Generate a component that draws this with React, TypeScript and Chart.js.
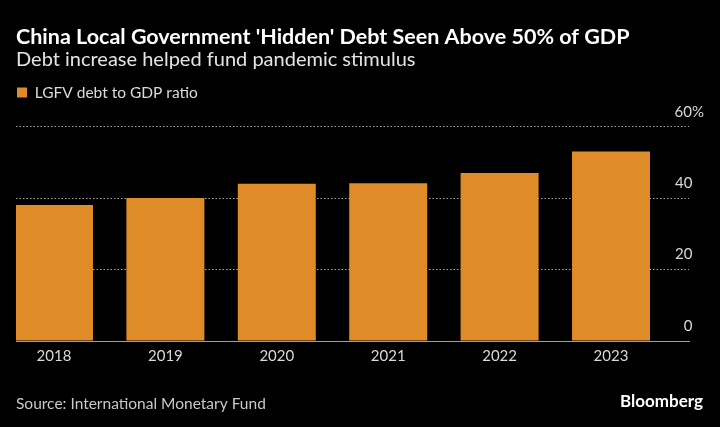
import React, { useEffect, useRef } from "react";
import { Chart, registerables } from "chart.js";

Chart.register(...registerables);

const years: number[] = [2018, 2019, 2020, 2021, 2022, 2023];
const debtRatio: number[] = [38.1, 40.1, 44.1, 44.2, 47.1, 53.1];
const yTicks: number[] = [0, 20, 40, 60];

const TITLE = "China Local Government 'Hidden' Debt Seen Above 50% of GDP";
const SUBTITLE = "Debt increase helped fund pandemic stimulus";
const SERIES = "LGFV debt to GDP ratio";
const SOURCE = "Source: International Monetary Fund";
const BRAND = "Bloomberg";

const FONT = "Lato, 'Noto Sans', sans-serif";
const ORANGE = "#DF8B27";

export default function App() {
  const ref = useRef<HTMLCanvasElement | null>(null);

  useEffect(() => {
    const canvas = ref.current;
    if (!canvas) return;

    const legendSpacer = {
      id: "legendSpacer",
      beforeInit(chart: any) {
        const orig = chart.legend.fit;
        chart.legend.fit = function () {
          orig.call(this);
          this.height += 16.6;
        };
      },
    };

    const footer = {
      id: "footer",
      afterDraw(chart: any) {
        const ctx = chart.ctx;
        ctx.save();
        ctx.textBaseline = "middle";
        ctx.font = `15.5px ${FONT}`;
        ctx.fillStyle = "#c8c8c8";
        ctx.textAlign = "left";
        ctx.fillText(SOURCE, 16, 404);
        ctx.font = `bold 17px ${FONT}`;
        ctx.fillStyle = "#ffffff";
        ctx.textAlign = "right";
        ctx.fillText(BRAND, 703, 402);
        ctx.restore();
      },
    };

    const chart = new Chart(canvas, {
      type: "bar",
      data: {
        datasets: [
          {
            label: SERIES,
            data: years.map((y, i) => ({ x: y, y: debtRatio[i] })),
            backgroundColor: ORANGE,
            borderWidth: 0,
            categoryPercentage: 1,
            barPercentage: 0.7,
          },
        ],
      },
      options: {
        responsive: false,
        animation: false,
        layout: { padding: { top: 0, left: 16, right: 16, bottom: 56 } },
        scales: {
          x: {
            type: "linear",
            offset: false,
            min: 2017.659,
            max: 2023.7,
            afterBuildTicks: (scale: any) => {
              scale.ticks = years.map((v) => ({ value: v }));
            },
            grid: { display: false, drawTicks: false },
            border: { display: true, color: "#a0a0a0", width: 1 },
            ticks: {
              padding: 6,
              color: "#d9d9d9",
              font: { family: FONT, size: 15 },
              callback: (v: any) => String(v),
            },
          },
          y: {
            position: "right",
            min: 0,
            max: 60,
            afterBuildTicks: (scale: any) => {
              scale.ticks = yTicks.map((v) => ({ value: v }));
            },
            afterFit: (scale: any) => {
              scale.width = 15;
            },
            grid: {
              drawTicks: false,
              lineWidth: 1,
              color: (c: any) => (c.tick && c.tick.value === 0 ? "rgba(0,0,0,0)" : "#a8a8a8"),
            },
            border: { display: false, dash: [1.5, 2] },
            ticks: {
              mirror: true,
              padding: 15,
              crossAlign: "near",
              labelOffset: -15,
              color: "#d9d9d9",
              font: { family: FONT, size: 15 },
              callback: (v: any) => (v === 60 ? "60%" : String(v) + "\u2007\u200A\u200A\u200A"),
            },
          },
        },
        plugins: {
          title: {
            display: true,
            text: TITLE,
            align: "start",
            color: "#ffffff",
            font: { family: FONT, size: 21.5, weight: "bold", lineHeight: 1.2 },
            padding: { top: 24.1, bottom: 0 },
          },
          subtitle: {
            display: true,
            text: SUBTITLE,
            align: "start",
            color: "#e4e4e4",
            font: { family: FONT, size: 20, lineHeight: 1 },
            padding: { top: 0, bottom: 13.95 },
          },
          legend: {
            display: true,
            position: "top",
            align: "start",
            labels: {
              boxWidth: 10,
              boxHeight: 10,
              padding: 1,
              color: "#dcdcdc",
              font: { family: FONT, size: 15.5 },
            },
          },
          tooltip: { enabled: false },
        },
      } as any,
      plugins: [legendSpacer, footer],
    });

    return () => chart.destroy();
  }, []);

  return (
    <div style={{ position: "fixed", left: 0, top: 0, width: 720, height: 427, background: "#000" }}>
      <canvas ref={ref} width={720} height={427} style={{ display: "block" }} />
    </div>
  );
}
